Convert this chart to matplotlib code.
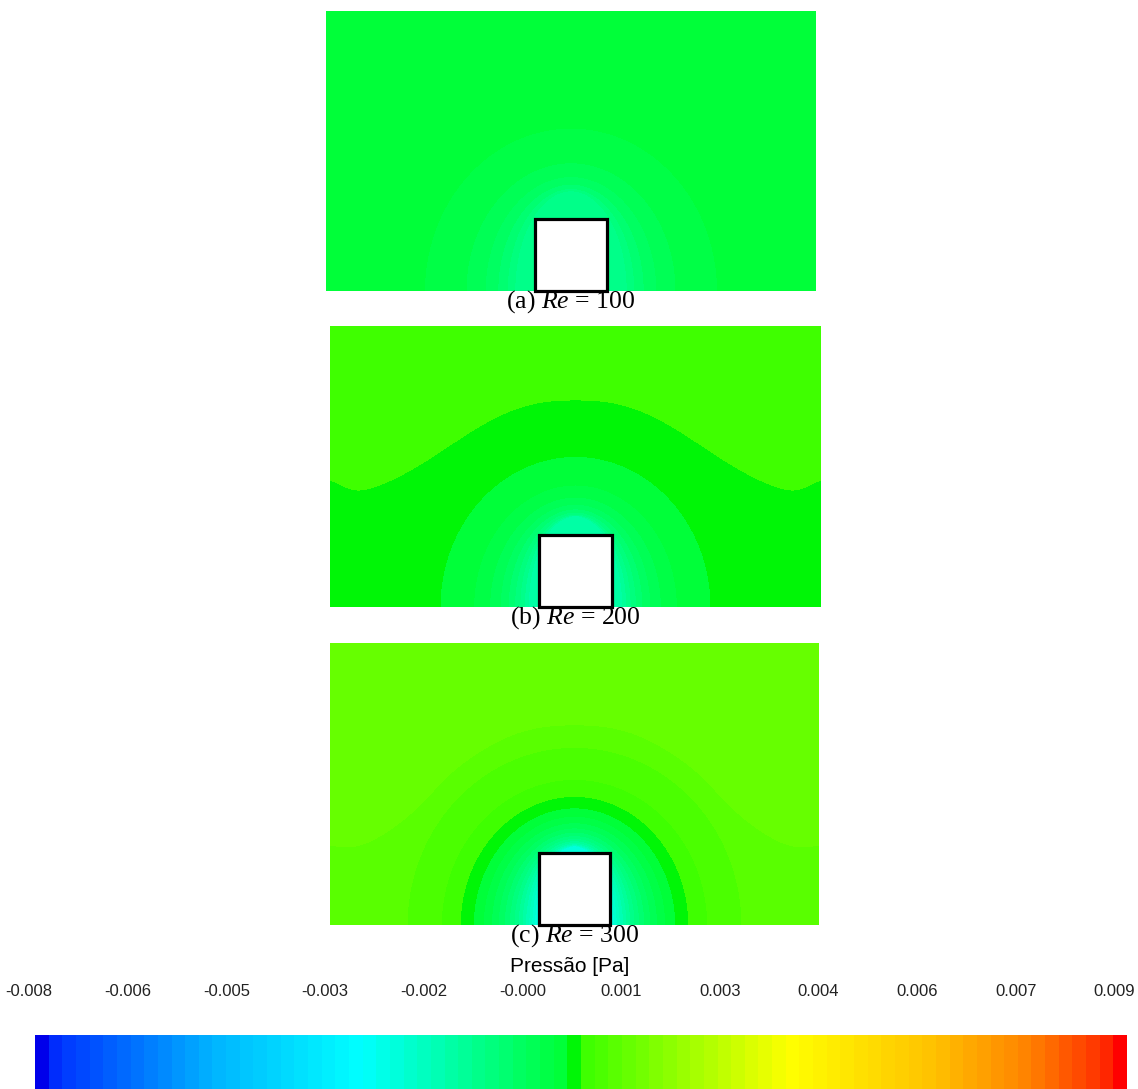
import numpy as np
import matplotlib.pyplot as plt
from matplotlib.colors import LinearSegmentedColormap, Normalize
from matplotlib.patches import Rectangle
from matplotlib.transforms import ScaledTranslation

plt.rcParams['mathtext.fontset'] = 'custom'
plt.rcParams['mathtext.rm'] = 'Liberation Serif'
plt.rcParams['mathtext.it'] = 'Liberation Serif:italic'

##### pressure scale [Pa] #####
p_min, p_max = -0.008, 0.009
n_bands = 80
tick_values = np.linspace(p_min, p_max, 12)

# colour stops of the scale (fraction of range, rgb 0-255)
cmap_pos = [0.0, 0.008, 0.019, 0.17, 0.298, 0.488, 0.4938, 0.499,
            0.692, 0.82, 0.911, 0.981, 0.99, 1.0]
cmap_rgb = [(0, 0, 230), (0, 0, 235), (0, 50, 255), (0, 185, 255),
            (0, 255, 255), (0, 255, 50), (0, 245, 0), (55, 255, 0),
            (255, 255, 0), (255, 195, 0), (255, 130, 0), (255, 45, 0),
            (255, 0, 0), (255, 0, 0)]

##### cases #####
reynolds = [100, 200, 300]
panel_tags = ['(a)', '(b)', '(c)']
p_top = [0.00018, 0.0006, 0.00124]      # far field above the wave
p_low = [0.00018, 0.0004, 0.0011]       # far field below the wave
p_core = [-0.0012, -0.0015, -0.0023]    # just above the cube
dome_c = [0.48, 0.40, 0.30]             # vertical stretch of isobars
dome_decay = [0.52, 0.44, 0.60]
wave_base = [0.0, 1.45, 0.92]
wave_peak = [0.0, 1.42, 1.80]
wave_width = [1.0, 2.16, 2.20]
wave_power = [2.8, 2.5, 2.8]
wave_edge = [0.0, 0.25, 0.12]

# domain in cube heights
x_half = 3.4
y_top = 3.9

# panel boxes in pixels (left, top, right, bottom)
W, H = 1138, 1089
boxes = [(326, 11, 816, 291), (330, 326, 821, 607), (330, 643, 819, 925)]

colors = [tuple(v / 255 for v in c) for c in cmap_rgb]
cmap = LinearSegmentedColormap.from_list('pressao', list(zip(cmap_pos, colors)), N=512)
norm = Normalize(vmin=p_min, vmax=p_max)
levels = np.linspace(p_min, p_max, n_bands + 1)


def isobar_radius(X, Y, c):
    # bisection for R in x^2/R^2 + y^2/(R + c/R)^2 = 1
    lo = np.full(X.shape, np.sqrt(c))
    hi = np.full(X.shape, 15.0)
    for _ in range(45):
        mid = 0.5 * (lo + hi)
        g = X**2 / mid**2 + Y**2 / (mid + c / mid)**2
        out = g > 1
        lo = np.where(out, mid, lo)
        hi = np.where(out, hi, mid)
    return 0.5 * (lo + hi)


x = np.linspace(-x_half, x_half, 700)
y = np.linspace(0, y_top, 400)
X, Y = np.meshgrid(x, y)

fig = plt.figure(figsize=(W / 100, H / 100), dpi=100)

for i in range(3):
    l, t, r, b = boxes[i]
    ax = fig.add_axes([l / W, 1 - b / H, (r - l) / W, (b - t) / H])

    R = isobar_radius(X, Y, dome_c[i])
    f = np.exp(-(R - np.sqrt(dome_c[i])) / dome_decay[i])
    yb = (wave_base[i] + wave_peak[i] * np.exp(-(np.abs(X) / wave_width[i])**wave_power[i])
          + wave_edge[i] * np.exp(-((x_half + 0.05 - np.abs(X)) / 0.3)**2))
    below = 0.5 * (1 + np.tanh((yb - Y) / 0.02))
    P = p_top[i] + (p_low[i] - p_top[i]) * below + (p_core[i] - p_low[i]) * f

    cf = ax.contourf(X, Y, P, levels=levels, cmap=cmap, norm=norm)
    ax.add_patch(Rectangle((-0.5, 0), 1, 1, facecolor='white', edgecolor='black',
                           lw=2.3, zorder=3, clip_on=False))
    ax.set_xlim(-x_half, x_half)
    ax.set_ylim(0, y_top)
    ax.axis('off')

    ax.annotate(panel_tags[i] + ' $Re$ = %d' % reynolds[i], xy=(0.5, 0),
                xycoords='axes fraction', xytext=(0, -11), textcoords='offset pixels',
                ha='center', va='center', fontsize=18.5, family='Liberation Serif')

# colour scale
cax = fig.add_axes([35 / W, 0, 1092 / W, (H - 1035) / H])
cb = fig.colorbar(cf, cax=cax, orientation='horizontal', ticks=tick_values)
cb.outline.set_visible(False)
cax.xaxis.set_ticks_position('top')
cax.tick_params(length=0, pad=26, labelsize=12, labelcolor='#222222')
cax.set_xticklabels(['%.3f' % v for v in tick_values], family='Liberation Sans')
for k, lab in enumerate(cax.get_xticklabels()):
    shift = ScaledTranslation(-(6 + 0.6 * k) / 100, 0, fig.dpi_scale_trans)
    lab.set_transform(lab.get_transform() + shift)

fig.text(570 / W, 1 - 967 / H, 'Pressão [Pa]', ha='center', va='center',
         fontsize=15, family='Liberation Sans')

plt.savefig('out.png', dpi=100)
